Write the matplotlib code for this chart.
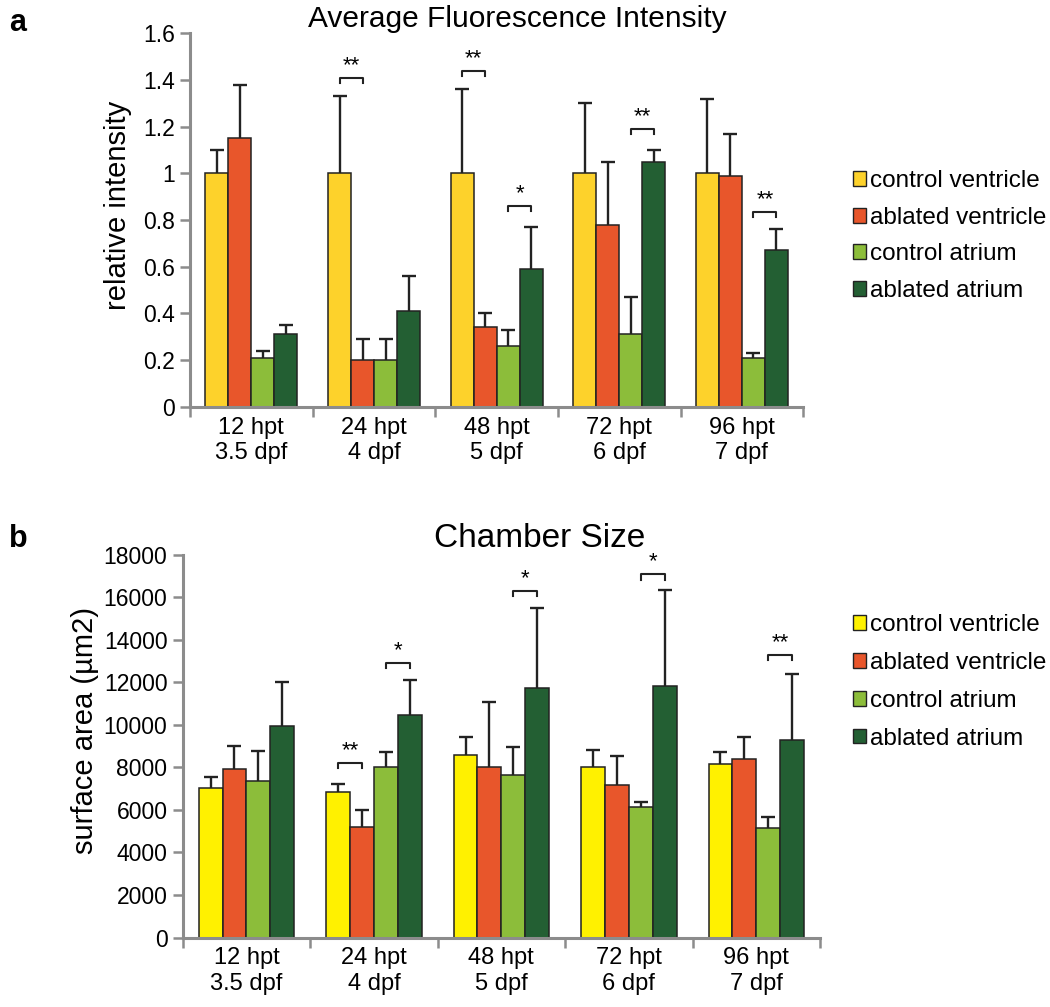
import numpy as np
import matplotlib
matplotlib.use("Agg")
from matplotlib import pyplot as plt
from matplotlib.patches import Patch
from matplotlib.ticker import FuncFormatter, FixedLocator

plt.rcParams['font.family'] = ['Liberation Sans', 'DejaVu Sans']

groups = ["12 hpt\n3.5 dpf", "24 hpt\n4 dpf", "48 hpt\n5 dpf", "72 hpt\n6 dpf", "96 hpt\n7 dpf"]
series = ["control ventricle", "ablated ventricle", "control atrium", "ablated atrium"]

# panel a: average fluorescence intensity
fl_mean = [
    [1.0, 1.0, 1.0, 1.0, 1.0],
    [1.15, 0.20, 0.34, 0.78, 0.99],
    [0.21, 0.20, 0.26, 0.31, 0.21],
    [0.31, 0.41, 0.59, 1.05, 0.67],
]
fl_err = [
    [0.10, 0.33, 0.36, 0.30, 0.32],
    [0.23, 0.09, 0.06, 0.27, 0.18],
    [0.03, 0.09, 0.07, 0.16, 0.02],
    [0.04, 0.15, 0.18, 0.05, 0.09],
]
# (group, bar i, bar j, bracket height, label)
fl_sig = [(1, 0, 1, 1.41, "**"), (2, 0, 1, 1.44, "**"), (2, 2, 3, 0.86, "*"),
          (3, 2, 3, 1.19, "**"), (4, 2, 3, 0.835, "**")]

# panel b: chamber size
cs_mean = [
    [7050, 6850, 8600, 8000, 8150],
    [7950, 5180, 8000, 7180, 8380],
    [7350, 8020, 7640, 6160, 5160],
    [9950, 10470, 11720, 11820, 9280],
]
cs_err = [
    [510, 350, 820, 840, 560],
    [1050, 840, 3060, 1370, 1040],
    [1430, 690, 1340, 230, 500],
    [2080, 1620, 3800, 4530, 3110],
]
cs_sig = [(1, 0, 1, 8220, "**"), (1, 2, 3, 12910, "*"), (2, 2, 3, 16320, "*"),
          (3, 2, 3, 17090, "*"), (4, 2, 3, 13290, "**")]

colors_a = ["#FDD22B", "#E8562B", "#8CBD3A", "#235F33"]
colors_b = ["#FFF100", "#E8562B", "#8CBD3A", "#235F33"]
spine_col = "#8C8C8C"
w = 0.1875


def panel(ax, means, errs, sig, colors, ymax, ystep, ylabel, lab_x, leg_x, leg_y, leg_sp):
    x = np.arange(len(groups))
    offs = (np.arange(4) - 1.5) * w
    for k in range(4):
        m = np.array(means[k], dtype=float)
        e = np.array(errs[k], dtype=float)
        ax.bar(x + offs[k], m, w, color=colors[k], edgecolor="#222222", linewidth=1.1, zorder=2)
        _, caps, _ = ax.errorbar(x + offs[k], m, yerr=[np.zeros_like(e), e], fmt="none",
                                 ecolor="#222222", elinewidth=1.7, capsize=4.7, capthick=1.7, zorder=3)
        caps[0].set_visible(False)
    leg = ymax * 0.014
    for g, i, j, yb, lab in sig:
        x0, x1 = g + offs[i], g + offs[j]
        ax.plot([x0, x0, x1, x1], [yb - leg, yb, yb, yb - leg], color="#222222", lw=1.5, zorder=3)
        ax.text((x0 + x1) / 2, yb + ymax * 0.004, lab, ha="center", va="bottom", fontsize=16)
    ax.set_xlim(-0.5, len(groups) - 0.5)
    ax.set_ylim(0, ymax)
    ax.set_yticks(np.arange(0, ymax + ystep / 2, ystep))
    ax.yaxis.set_major_formatter(FuncFormatter(lambda v, p: "{:g}".format(round(v, 4))))
    ax.xaxis.set_major_locator(FixedLocator(np.arange(-0.5, len(groups), 1.0)))
    ax.xaxis.set_major_formatter(FuncFormatter(lambda v, p: ""))
    ax.xaxis.set_minor_locator(FixedLocator(x))
    ax.set_xticklabels(groups, minor=True)
    ax.tick_params(axis="x", which="minor", length=0, labelsize=17, pad=7)
    ax.tick_params(axis="x", which="major", length=7, width=1.8, color=spine_col)
    ax.tick_params(axis="y", length=7, width=1.8, color=spine_col, labelsize=16.5, pad=4)
    for s in ["top", "right"]:
        ax.spines[s].set_visible(False)
    for s in ["left", "bottom"]:
        ax.spines[s].set_color(spine_col)
        ax.spines[s].set_linewidth(2.2)
    ax.set_ylabel(ylabel, fontsize=21)
    ax.yaxis.set_label_coords(lab_x, 0.54)
    handles = [Patch(facecolor=c, edgecolor="#222222", linewidth=1) for c in colors]
    ax.legend(handles, series, loc="center left", bbox_to_anchor=(leg_x, leg_y), frameon=False,
              fontsize=17.5, handlelength=0.55, handleheight=0.55, handletextpad=0.15,
              labelspacing=leg_sp, borderaxespad=0)


fig = plt.figure(figsize=(10.5, 10.07), dpi=100)
ax1 = fig.add_axes([0.181, 0.596, 0.584, 0.371])
ax2 = fig.add_axes([0.174, 0.069, 0.607, 0.380])
panel(ax1, fl_mean, fl_err, fl_sig, colors_a, 1.6, 0.2, "relative intensity", -0.094, 1.065, 0.457, 0.6)
panel(ax2, cs_mean, cs_err, cs_sig, colors_b, 18000, 2000, "surface area (µm2)", -0.132, 1.036, 0.668, 0.65)
fig.text(0.493, 0.973, "Average Fluorescence Intensity", fontsize=21.5, ha="center", va="baseline")
fig.text(0.514, 0.457, "Chamber Size", fontsize=24, ha="center", va="baseline")
fig.text(0.009, 0.992, "a", fontsize=22, fontweight="bold", va="top")
fig.text(0.009, 0.480, "b", fontsize=22, fontweight="bold", va="top")

fig.savefig("out.png", dpi=100)
